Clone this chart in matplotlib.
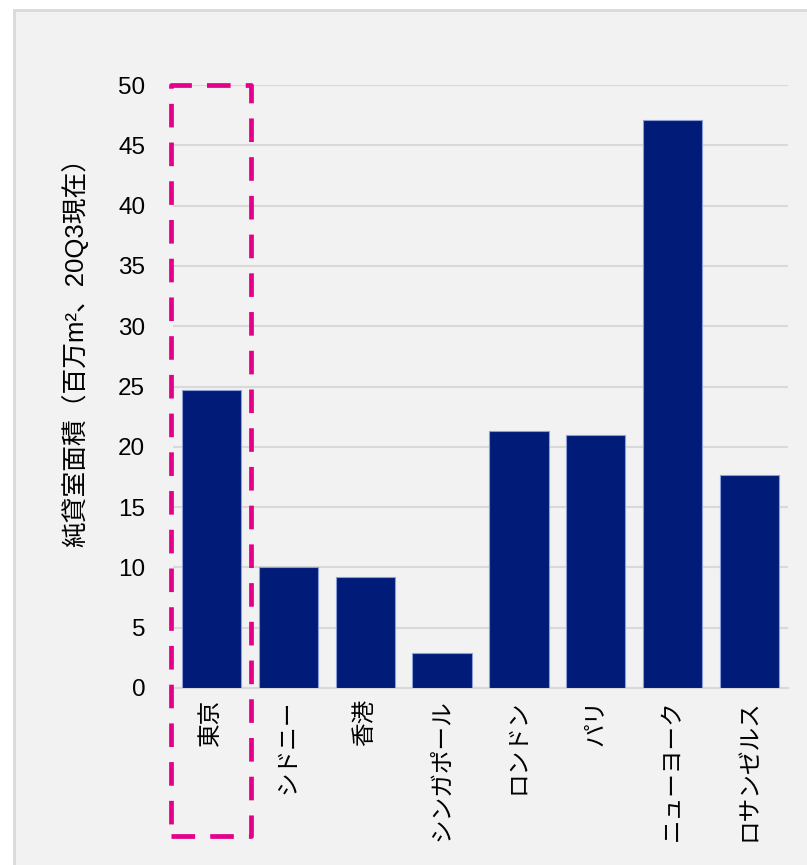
import numpy as np
import matplotlib.pyplot as plt
from matplotlib.patches import Rectangle

plt.rcParams['font.family'] = ['Liberation Sans', 'Noto Sans CJK JP']

cities = ['東京', 'シドニー', '香港', 'シンガポール', 'ロンドン', 'パリ', 'ニューヨーク', 'ロサンゼルス']
area = [24.7, 10.0, 9.2, 2.9, 21.3, 21.0, 47.1, 17.7]
yticks = [0, 5, 10, 15, 20, 25, 30, 35, 40, 45, 50]

fig = plt.figure(figsize=(8.07, 8.65), dpi=100, facecolor='white')
# chart panel background
fig.patches.append(Rectangle((14 / 807, -0.01), 1.0, 1 - 10 / 865 + 0.01,
                             transform=fig.transFigure, facecolor='#f2f2f2',
                             edgecolor='#d9d9d9', linewidth=2, zorder=-10))

ax = fig.add_axes([173 / 807, 1 - 688 / 865, 615 / 807, 603 / 865])
ax.set_facecolor('none')
x = np.arange(len(cities))
ax.bar(x, area, width=0.77, color='#001b78', edgecolor='#8a9fd8', linewidth=0.8, zorder=3)

ax.set_xlim(-0.5, len(cities) - 0.5)
ax.set_ylim(0, 50)
ax.set_yticks(yticks)
ax.set_yticklabels([str(v) for v in yticks], fontsize=17.5)
ax.set_xticks(x)
ax.set_xticklabels(cities, rotation=90, fontsize=17, va='top', ha='center')
ax.tick_params(axis='both', length=0)
ax.tick_params(axis='y', pad=20)
ax.tick_params(axis='x', pad=8)
ax.grid(True, axis='y', color='#d9d9d9', lw=1.5, zorder=0)
for s in ['top', 'right', 'left']:
    ax.spines[s].set_visible(False)
ax.spines['bottom'].set_color('#d9d9d9')
ax.spines['bottom'].set_linewidth(1.5)
ax.set_ylabel('純貸室面積（百万m²、20Q3現在）', fontsize=18.5)
ax.yaxis.set_label_coords(-0.138, 0.567)

# highlight box around Tokyo
ax.add_patch(Rectangle((-0.52, -12.3), 1.04, 62.3, fill=False, edgecolor='#e5008a',
                       linewidth=3.4, linestyle=(0, (5, 3.2)), joinstyle='round',
                       clip_on=False, zorder=5))

fig.savefig('out.png', dpi=100, facecolor=fig.get_facecolor())
